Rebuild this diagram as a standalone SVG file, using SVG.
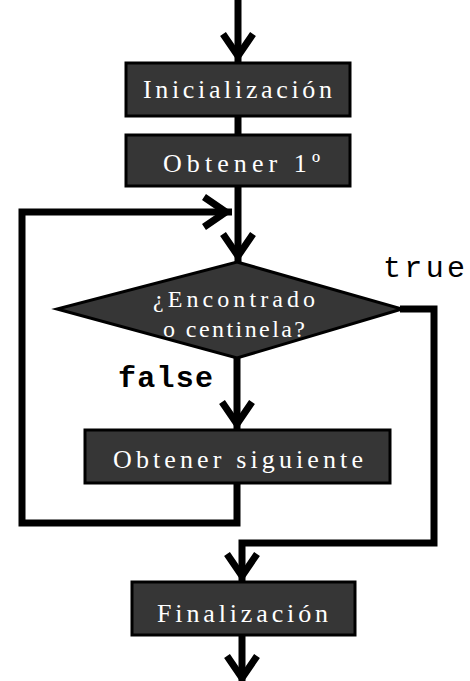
<svg xmlns="http://www.w3.org/2000/svg" width="470" height="681" viewBox="0 0 470 681">
<style>
.box{fill:#363636;stroke:#000;stroke-width:3}
.lbl{font-family:"Liberation Serif",serif;font-size:26px;fill:#fff}
.dl{font-family:"Liberation Serif",serif;font-size:24px;fill:#fff}
.mono{font-family:"Liberation Mono",monospace;font-size:30px;fill:#000}
.conn{fill:none;stroke:#000;stroke-width:7}
</style>
<defs>
<marker id="ah" markerUnits="userSpaceOnUse" markerWidth="40" markerHeight="40" viewBox="-35 -20 40 40" refX="0" refY="0" orient="auto">
<path d="M-28,-15 L-6,0 L-28,15" fill="none" stroke="#000" stroke-width="7"/>
</marker>
</defs>
<rect width="470" height="681" fill="#fff"/>
<g id="connectors">
<path class="conn" d="M238,0 V62" marker-end="url(#ah)"/>
<path class="conn" d="M238,116 V135"/>
<path class="conn" d="M238,186 V262" marker-end="url(#ah)"/>
<path class="conn" d="M237,483 V523 H22 V212 H232" marker-end="url(#ah)"/>
<path class="conn" d="M237,358 V430" marker-end="url(#ah)"/>
<path class="conn" d="M400,309 H434 V543 H242 V582" marker-end="url(#ah)"/>
<path class="conn" d="M242,635 V684" marker-end="url(#ah)"/>
</g>
<g id="inicializacion">
<rect class="box" x="126" y="63" width="224" height="53"/>
<text class="lbl" x="143" y="98" textLength="189" lengthAdjust="spacing">Inicialización</text>
</g>
<g id="obtener1">
<rect class="box" x="126" y="135" width="224" height="51"/>
<text class="lbl" x="163" y="172" textLength="157" lengthAdjust="spacing">Obtener 1º</text>
</g>
<g id="decision">
<polygon class="box" points="237,262 402,309 237,358 57,309"/>
<text class="dl" x="153" y="307" textLength="162" lengthAdjust="spacing">¿Encontrado</text>
<text class="dl" x="163" y="337" textLength="142" lengthAdjust="spacing">o centinela?</text>
</g>
<g id="obtener-siguiente">
<rect class="box" x="85" y="430" width="305" height="53"/>
<text class="lbl" x="113" y="468" textLength="250" lengthAdjust="spacing">Obtener siguiente</text>
</g>
<g id="finalizacion">
<rect class="box" x="132" y="582" width="223" height="53"/>
<text class="lbl" x="157" y="622" textLength="171" lengthAdjust="spacing">Finalización</text>
</g>
<g id="labels">
<text class="mono" x="383" y="277" textLength="82" lengthAdjust="spacing">true</text>
<text class="mono" x="118" y="387" font-weight="bold" textLength="95" lengthAdjust="spacing">false</text>
</g>
</svg>
